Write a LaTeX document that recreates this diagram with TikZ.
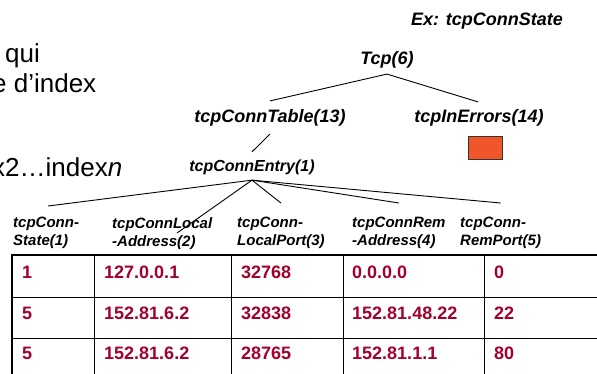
\documentclass[tikz,border=0pt]{standalone}
\usepackage{fontspec}
\setmainfont{Liberation Sans}
\definecolor{cellred}{HTML}{A3002B}
\definecolor{boxorange}{HTML}{F0562A}
\begin{document}
\begin{tikzpicture}[x=1pt,y=-1pt,
  lbl/.style={font=\fontsize{18}{20}\selectfont\bfseries\itshape, inner sep=0pt},
  hdr/.style={font=\fontsize{15}{18}\selectfont\bfseries\itshape, align=left, inner sep=0pt, anchor=north west},
  cell/.style={font=\fontsize{18}{20}\selectfont\bfseries, text=cellred, anchor=west, inner sep=0pt},
  big/.style={font=\fontsize{26}{30}\selectfont, anchor=base west, inner sep=0pt},
  edge/.style={draw=black, line width=0.9pt},
  rule/.style={draw=black, line width=0.9pt},
  thick rule/.style={draw=black, line width=1.8pt}]
\useasboundingbox (0,0) rectangle (597,374);
\clip (0,0) rectangle (597,374);
% left text fragments
\node[big] (t1) at (5,63) {qui};
\node[big] (t2) at (-8,93) {e d’index};
\node[big] (t3) at (-8,177) {x2…index\textit{n}};
% tree labels
\node[lbl] (ex) at (487,21) {Ex: tcpConnState};
\node[lbl] (tcp) at (387,60) {Tcp(6)};
\node[lbl] (table) at (270,118) {tcpConnTable(13)};
\node[lbl] (inerr) at (479,118) {tcpInErrors(14)};
\node[draw=black!80, line width=0.9pt, fill=boxorange, minimum width=34pt, minimum height=23pt, inner sep=0pt, anchor=north west] (box) at (468,136) {};
\node[lbl, font=\fontsize{16}{20}\selectfont\bfseries\itshape] (entry) at (252,167) {tcpConnEntry(1)};
% column headers
\node[hdr] (h1) at (13,217) {tcpConn-\\State(1)};
\node[hdr] (h2) at (112,217) {tcpConnLocal\\-Address(2)};
\node[hdr] (h3) at (237,217) {tcpConn-\\LocalPort(3)};
\node[hdr] (h4) at (352,217) {tcpConnRem\\-Address(4)};
\node[hdr] (h5) at (460,217) {tcpConn-\\RemPort(5)};
\coordinate (h2end) at (177,233);
% tree edges
\coordinate (tcpS) at ([yshift=-5.5pt]tcp.south);
\draw[edge] (tcpS) -- ([yshift=8.5pt]table.north);
\draw[edge] (tcpS) -- ([xshift=-1pt,yshift=7.5pt]inerr.north);
\draw[edge] ([yshift=-7.5pt]table.south) -- ([yshift=7.5pt]entry.north);
\coordinate (fan) at ([yshift=-5.5pt]entry.south);
\draw[edge] (fan) -- ([xshift=2pt,yshift=11pt]h1.north);
\draw[edge] (fan) -- (h2end);
\draw[edge] (fan) -- ([yshift=14pt]h3.north);
\draw[edge] (fan) -- ([yshift=14pt]h4.north);
\draw[edge] (fan) -- ([yshift=14pt]h5.north);
% table grid
\draw[rule] (12,297) -- (597,297);
\draw[rule] (12,338) -- (597,338);
\foreach \x in {94,231,343,484} \draw[rule] (\x,255) -- (\x,374);
\draw[thick rule] (12,374) -- (12,255) -- (597,255);
% cells
\node[cell] (c11) at (22,272) {1};
\node[cell] (c12) at (104,272) {127.0.0.1};
\node[cell] (c13) at (241,272) {32768};
\node[cell] (c14) at (352,272) {0.0.0.0};
\node[cell] (c15) at (494,272) {0};
\node[cell] (c21) at (22,313) {5};
\node[cell] (c22) at (104,313) {152.81.6.2};
\node[cell] (c23) at (241,313) {32838};
\node[cell] (c24) at (352,313) {152.81.48.22};
\node[cell] (c25) at (494,313) {22};
\node[cell] (c31) at (22,353) {5};
\node[cell] (c32) at (104,353) {152.81.6.2};
\node[cell] (c33) at (241,353) {28765};
\node[cell] (c34) at (352,353) {152.81.1.1};
\node[cell] (c35) at (494,353) {80};
\end{tikzpicture}
\end{document}
